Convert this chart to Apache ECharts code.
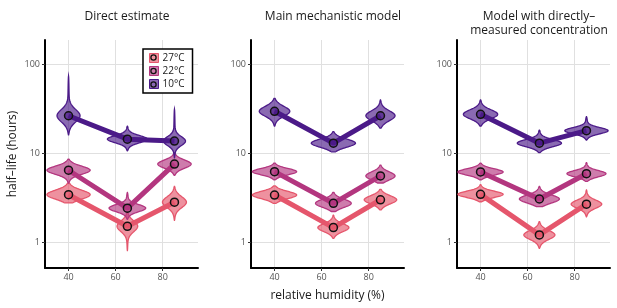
<!DOCTYPE html>
<html>
<head>
<meta charset="utf-8">
<script src="https://cdn.jsdelivr.net/npm/echarts@6/dist/echarts.min.js"></script>
<style>
  html, body { margin: 0; padding: 0; background: #fff; }
  #chart { width: 617px; height: 308px; }
</style>
</head>
<body>
<div id="chart"></div>
<script>
// x positions (relative humidity) and groups
const humidity = [40, 65, 85];
const temperatures = ['27°C', '22°C', '10°C'];
const panelTitles = ['Direct estimate', 'Main mechanistic model', 'Model with directly\u2013\nmeasured concentration'];
const yTicks = [1, 10, 100];
const xTicks = [40, 60, 80];

// rows: 27°C, 22°C, 10°C ; columns: humidity 40, 65, 85
const directMedian = [[3.4, 1.5, 2.8], [6.4, 2.4, 7.5], [26.2, 14.3, 13.6]];
const directLow = [[2.75, 0.8, 1.75], [4.6, 1.8, 5.6], [16, 10.6, 8.8]];
const directHigh = [[4.6, 2.2, 4.2], [8.5, 3.6, 10], [73, 20, 31]];
const directWidth = [[9.2, 4.4, 5.1], [9.2, 7.8, 7.1], [4.9, 8.5, 4.7]];
const directSpread = [[0.05, 0.06, 0.06], [0.045, 0.04, 0.045], [0.07, 0.04, 0.05]];

const mechMedian = [[3.37, 1.45, 2.98], [6.17, 2.72, 5.52], [29.4, 12.9, 26.2]];
const mechLow = [[2.72, 1.1, 2.29], [5.0, 2.2, 4.6], [20, 10.3, 19]];
const mechHigh = [[4.26, 2.0, 3.9], [7.7, 3.6, 7.3], [41, 17.4, 39.5]];
const mechWidth = [[9.4, 6.6, 6.9], [9.4, 7.6, 6.2], [6.5, 9.4, 6.2]];
const mechSpread = [[0.04, 0.045, 0.045], [0.035, 0.045, 0.045], [0.055, 0.045, 0.055]];

const measMedian = [[3.43, 1.2, 2.66], [6.12, 3.04, 5.85], [27.2, 12.9, 17.8]];
const measLow = [[2.83, 0.85, 1.92], [5.0, 2.5, 4.8], [20, 10.1, 14]];
const measHigh = [[4.4, 1.69, 3.84], [7.7, 4.2, 7.8], [39.5, 18.1, 25.6]];
const measWidth = [[9.6, 6.6, 6.5], [9.6, 8.5, 8.3], [7.3, 9.4, 9.2]];
const measSpread = [[0.035, 0.05, 0.045], [0.035, 0.045, 0.035], [0.05, 0.04, 0.035]];

const lineColors = ['#e5566c', '#b3367f', '#4b1a88'];
const fillColors = ['rgba(229,86,108,0.65)', 'rgba(179,54,127,0.65)', 'rgba(75,26,136,0.65)'];
const solidFills = ['#ef919d', '#cf7aab', '#8a66b3'];

const panels = [
  { median: directMedian, low: directLow, high: directHigh, width: directWidth, spread: directSpread },
  { median: mechMedian, low: mechLow, high: mechHigh, width: mechWidth, spread: mechSpread },
  { median: measMedian, low: measLow, high: measHigh, width: measWidth, spread: measSpread }
];

const gridLefts = [45, 251, 457];
const gridWidth = 153;

// violin outline: density in log space around the median, thin tails to low/high
function renderViolin(params, api) {
  const x = api.value(0);
  const med = Math.log10(api.value(1));
  const lo = Math.log10(api.value(2));
  const hi = Math.log10(api.value(3));
  const hw = api.value(4);
  const sd = api.value(5);
  const n = 60;
  const right = [], left = [];
  for (let i = 0; i <= n; i++) {
    const t = lo + (hi - lo) * i / n;
    const d = t - med;
    const range = d < 0 ? med - lo : hi - med;
    const frac = range > 0 ? Math.min(Math.abs(d) / range, 1) : 1;
    const z = d / sd;
    const w = hw * (0.93 * Math.exp(-0.5 * z * z) + 0.07 * Math.sqrt(1 - frac));
    right.push(api.coord([x + w, Math.pow(10, t)]));
    left.unshift(api.coord([x - w, Math.pow(10, t)]));
  }
  const k = params.seriesIndex % 3;
  return {
    type: 'polygon',
    shape: { points: right.concat(left) },
    style: { fill: fillColors[k], stroke: lineColors[k], lineWidth: 1.3 }
  };
}

const series = [];
panels.forEach((p, pi) => {
  temperatures.forEach((name, ti) => {
    series.push({
      type: 'custom',
      name: name,
      xAxisIndex: pi, yAxisIndex: pi,
      renderItem: renderViolin,
      encode: { x: 0, y: 1 },
      z: 2,
      silent: true,
      itemStyle: { color: solidFills[ti] },
      data: humidity.map((h, hi) => [h, p.median[ti][hi], p.low[ti][hi], p.high[ti][hi], p.width[ti][hi], p.spread[ti][hi]])
    });
  });
});
panels.forEach((p, pi) => {
  temperatures.forEach((name, ti) => {
    series.push({
      type: 'line',
      name: name,
      xAxisIndex: pi, yAxisIndex: pi,
      showSymbol: false,
      symbol: 'none',
      z: 3,
      silent: true,
      lineStyle: { color: lineColors[ti], width: 5 },
      itemStyle: { color: lineColors[ti] },
      data: humidity.map((h, hi) => [h, p.median[ti][hi]])
    });
  });
});
panels.forEach((p, pi) => {
  temperatures.forEach((name, ti) => {
    series.push({
      type: 'scatter',
      name: name,
      xAxisIndex: pi, yAxisIndex: pi,
      symbolSize: 8,
      z: 4,
      silent: true,
      itemStyle: { color: fillColors[ti], borderColor: '#111', borderWidth: 1.5, opacity: 1 },
      data: humidity.map((h, hi) => [h, p.median[ti][hi]])
    });
  });
});

const titleCenters = [122, 328, 534];
const legendRows = [57.5, 71, 84.5];

const option = {
  animation: false,
  backgroundColor: '#fff',
  textStyle: { fontFamily: 'Open Sans, Noto Sans, sans-serif' },
  title: panelTitles.map((t, i) => ({
    text: t,
    left: titleCenters[i],
    top: 5,
    textAlign: 'center',
    textStyle: { fontSize: 12, fontWeight: 'normal', color: '#1a1a1a', lineHeight: 14 }
  })),
  legend: {
    data: temperatures.map((t, i) => ({
      name: t,
      icon: 'rect',
      itemStyle: { color: solidFills[i], borderColor: lineColors[i], borderWidth: 1 }
    })),
    orient: 'vertical',
    left: 143,
    top: 49,
    padding: [4, 8, 4, 6],
    itemGap: 3,
    itemWidth: 9,
    itemHeight: 9,
    borderColor: '#000',
    borderWidth: 1.5,
    backgroundColor: '#fff',
    selectedMode: false,
    textStyle: { fontSize: 10, color: '#1a1a1a', padding: [0, 0, 0, -1] }
  },
  graphic: legendRows.map((y, i) => ({
    type: 'circle',
    z: 100,
    silent: true,
    shape: { cx: 153.5, cy: y, r: 2.6 },
    style: { fill: solidFills[i], stroke: '#111', lineWidth: 1.3 }
  })),
  grid: gridLefts.map(l => ({ left: l, top: 40, width: gridWidth, height: 228 })),
  xAxis: gridLefts.map((l, i) => ({
    type: 'value',
    gridIndex: i,
    min: 30,
    max: 95,
    splitNumber: 3,
    name: i === 1 ? 'relative humidity (%)' : '',
    nameLocation: 'middle',
    nameGap: 22,
    nameTextStyle: { fontSize: 12, color: '#1a1a1a' },
    axisLine: { lineStyle: { color: '#000', width: 2 } },
    axisTick: { show: true, length: 3, lineStyle: { color: '#333' }, customValues: xTicks },
    axisLabel: { fontSize: 9, color: '#555', margin: 5, customValues: xTicks },
    splitLine: { show: true, lineStyle: { color: '#e0e0e0', width: 1 } }
  })),
  yAxis: gridLefts.map((l, i) => ({
    type: 'log',
    logBase: 10,
    gridIndex: i,
    min: 0.51,
    max: 186,
    name: i === 0 ? 'half\u2013life (hours)' : '',
    nameLocation: 'middle',
    nameGap: 26,
    nameTextStyle: { fontSize: 12, color: '#1a1a1a' },
    axisLine: { show: true, lineStyle: { color: '#000', width: 2 } },
    axisTick: { show: true, length: 3, lineStyle: { color: '#333' }, customValues: yTicks },
    axisLabel: { fontSize: 9, color: '#555', margin: 5, customValues: yTicks },
    splitLine: { show: true, lineStyle: { color: '#e0e0e0', width: 1 } }
  })),
  series: series
};

const chart = echarts.init(document.getElementById('chart'), null, { renderer: 'canvas' });
chart.setOption(option);
</script>
</body>
</html>
